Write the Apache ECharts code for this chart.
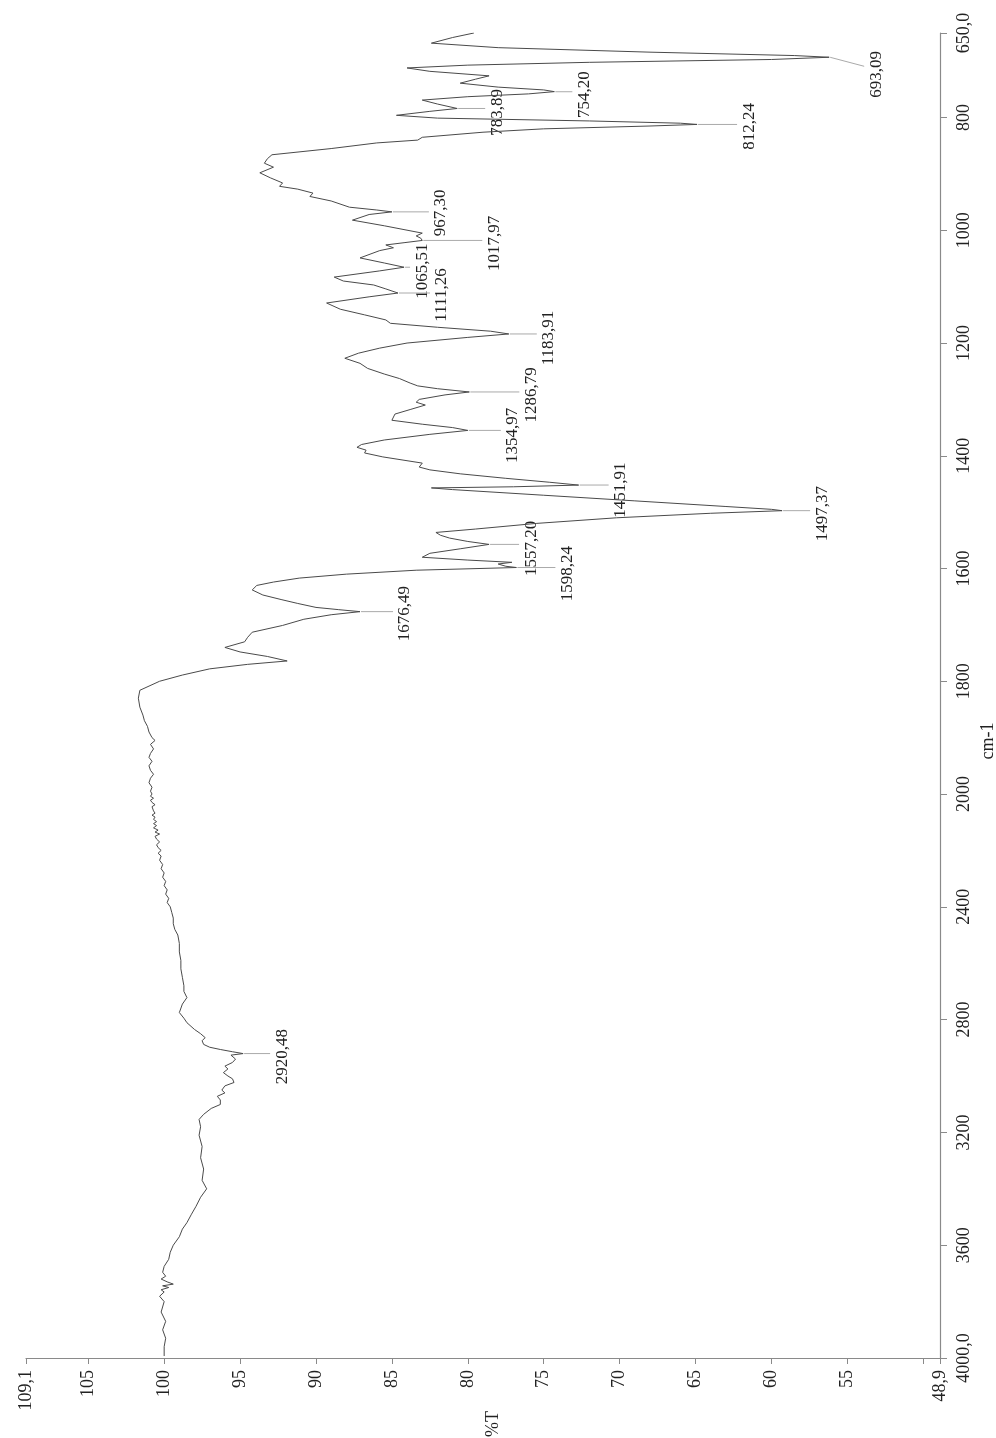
<!DOCTYPE html>
<html>
<head>
<meta charset="utf-8">
<script src="https://cdn.jsdelivr.net/npm/echarts@6/dist/echarts.min.js"></script>
<style>
html,body{margin:0;padding:0;background:#fff;}
#chart{width:996px;height:1438px;}
</style>
</head>
<body>
<div id="chart"></div>
<script>
// ---------- DATA ----------
// wavenumber (cm-1) and transmittance (%T)
const wavenumbers = [
650,658,668,676,684,690,693,697,702,707,712,718,726,732,739,746,751,754,758,763,769,776,783.9,789,796,801,806,810,812.2,815,820,826,835,840,845,855,866,873,881,888,898,907,916,922,927,934,940,948,959,964,967.3,972,982,992,1005,1010,1014,1018,1022,1026,1031,1036,1049,1058,1065.5,1072,1083,1090,1097,1104,1111.3,1118,1129,1140,1150,1159,1165,1172,1179,1183.9,1190,1200,1209,1218,1227,1236,1245,1255,1263,1271,1276,1281,1286.8,1292,1300,1305,1310,1318,1326,1337,1344,1350,1355,1362,1372,1380,1385,1390,1395,1402,1413,1420,1425,1432,1440,1447,1452,1455,1457,1460,1470,1480,1490,1495,1497.4,1502,1510,1520,1530,1536,1541,1546,1552,1557.2,1565,1573,1580,1585,1589,1592,1596,1598.2,1603,1610,1617,1624,1630,1638,1647,1655,1662,1669,1673,1676.5,1682,1690,1701,1713,1722,1730,1740,1748,1756,1764,1770,1778,1789,1800,1816,1830,1846,1860,1870,1880,1890,1900,1905,1912,1920,1928,1935,1942,1950,1958,1965,1972,1980,1988,1995,2000,
2008,2015,2022,2030,2038,2045,2052,2060,2068,2075,2082,2090,2098,2105,2112,2120,2128,2135,2142,2150,2160,2170,2180,2190,2200,2210,2220,2235,2250,2265,2280,2295,2310,2325,2340,2355,2370,2385,2400,2420,2440,2460,2480,2500,2530,2560,2590,2620,2650,2680,2700,2722,2745,2775,2795,2811,2835,2850,2864,2875,2888,2898,2906,2914,2920.5,2926,2931,2940,2952,2965,2975,2988,3000,3010,3023,3035,3050,3060,3072,3085,3101,3115,3136,3154,3180,3210,3250,3290,3330,3370,3400,3430,3462,3490,3520,3543,3570,3600,3625,3650,3675,3696,3710,3720,3730,3738,3744,3750,3758,3766,3781,3800,3837,3870,3900,3930,3960,3993,4000
];
const transmittance = [
79.6,81.0,82.4,78,68,58.5,56.2,60,72,80,84.0,82.5,78.6,79.5,80.5,78,75,74.3,76,80,83.0,82,80.7,82.5,84.7,82,72,66,64.9,68,75,79,83.0,83.3,86,89,92.9,93.2,93.4,92.8,93.7,93.0,92.2,92.4,91.2,90.2,90.4,89.0,87.8,86,85.0,86.5,87.6,85.5,83.0,83.4,83.1,83.0,84.2,85.4,84.9,85.8,87.1,85.5,84.2,85.8,88.8,88.2,86.2,85.4,84.6,86.5,89.3,88.4,86.8,85.4,85.1,82,78.5,77.3,80,84,85.8,87.2,88.1,87.1,86.6,85.5,84.5,83.8,83.3,82,79.9,81.5,83.2,83.4,82.8,83.8,84.8,85.0,83,81,80.0,82.5,85.5,87.0,87.3,86.7,86.8,85.6,83.0,83.2,82.5,80.5,77.5,74.6,72.7,77,82.4,81,75,69,63,60,59.3,64,70.2,75.5,79.5,82.1,81.8,81.2,80,78.6,80.5,82.5,83.0,80,77.1,78,77.5,76.8,83.4,88,91.1,92.8,93.9,94.2,93.5,92.3,91.2,90.0,88.5,87.1,89,90.8,92.2,94.2,94.5,94.7,96.0,95,93.2,91.9,94.5,97,98.8,100.3,101.6,101.7,101.6,101.4,101.3,101.1,101.0,100.8,100.6,100.9,100.7,100.9,101.0,100.8,101.0,100.9,100.7,100.9,101.0,100.8,100.9,100.8,
100.9,100.7,100.9,100.8,100.6,100.8,100.9,100.7,100.6,100.8,100.6,100.7,100.5,100.7,100.5,100.7,100.4,100.6,100.3,100.6,100.5,100.3,100.5,100.4,100.2,100.4,100.2,100.3,100.1,100.2,100.0,100.1,99.9,100.0,99.8,99.9,99.7,99.8,99.6,99.5,99.4,99.4,99.3,99.1,99.0,99.0,98.9,98.9,98.8,98.7,98.7,98.5,98.8,99.0,98.7,98.5,98.0,97.6,97.3,97.5,97.4,97.0,96.3,95.5,94.8,95.6,95.7,95.3,95.5,96.0,95.8,96.1,95.8,95.5,95.4,96.0,96.2,96.0,96.5,96.3,96.3,96.9,97.4,97.7,97.6,97.7,97.5,97.6,97.4,97.5,97.2,97.6,97.9,98.2,98.5,98.8,99.0,99.4,99.6,99.7,100.0,100.1,99.9,100.2,99.8,99.4,100.1,99.7,100.2,100.0,100.3,100.0,100.2,99.9,100.1,99.9,100.0,100.0
];
// annotated peaks
const peakLabels = ['693,09','754,20','783,89','812,24','967,30','1017,97','1065,51','1111,26','1183,91','1286,79','1354,97','1451,91','1497,37','1557,20','1598,24','1676,49','2920,48'];
const peakWn = [693.09,754.20,783.89,812.24,967.30,1017.97,1065.51,1111.26,1183.91,1286.79,1354.97,1451.91,1497.37,1557.20,1598.24,1676.49,2920.48];
const peakT = [56.2,74.3,80.7,64.9,85.0,83.0,84.2,84.6,77.3,79.9,80.0,72.7,59.3,78.6,76.8,87.1,94.8];
// axis tick labels
const tTicks = [48.9,50,55,60,65,70,75,80,85,90,95,100,105,109.1];
const tLabels = [48.9,55,60,65,70,75,80,85,90,95,100,105,109.1];
const wnTicksTop = [650,800,1000,1200,1400,1600,1800,2000];
const wnTicksBottom = [2000,2400,2800,3200,3600,4000];

// ---------- LAYOUT (label placement, px) ----------
const labelOffset = [47,30,40,52,49,72,18,44,40,62,45,42,40,42,51,45,39];
const labelShift  = [17,3,4,2,1,3,4,2,4,3,5,5,3,4,6,2,3];

// ---------- BUILD ----------
const FONT = '"Liberation Serif","Times New Roman",serif';
const TXT = '#222';
const AX = '#8a8a8a';
const split = 2000;
const topData = [], botData = [];
wavenumbers.forEach((w, i) => {
  if (w <= split) topData.push([transmittance[i], w]);
  if (w >= split) botData.push([transmittance[i], w]);
});
const peaksTop = [], peaksBot = [];
peakWn.forEach((w, i) => {
  const item = [peakT[i], w, i];
  (w <= split ? peaksTop : peaksBot).push(item);
});
function fmtComma(v) { return String(v).replace('.', ','); }

function renderPeak(params, api) {
  const idx = api.value(2);
  const p = api.coord([api.value(0), api.value(1)]);
  const off = labelOffset[idx], dy = labelShift[idx];
  const endX = p[0] + off - 12;
  return {
    type: 'group',
    children: [
      { type: 'line', shape: { x1: p[0] + 1, y1: p[1], x2: endX, y2: p[1] + (dy > 8 ? dy - 8 : 0) },
        style: { stroke: '#aaa', lineWidth: 1 } },
      { type: 'text', x: p[0] + off, y: p[1] + dy, rotation: Math.PI / 2,
        style: { text: peakLabels[idx], font: '17px ' + FONT, fill: TXT,
                 align: 'center', verticalAlign: 'middle', textAlign: 'center', textVerticalAlign: 'middle' } }
    ]
  };
}

const xCommon = { type: 'value', min: 48.9, max: 109.1, inverse: true };
const chart = echarts.init(document.getElementById('chart'), null, { renderer: 'canvas' });
chart.setOption({
  animation: false,
  backgroundColor: '#fff',
  grid: [
    { left: 26, right: 56, top: 33, height: 761 },
    { left: 26, right: 56, top: 794, height: 564 }
  ],
  xAxis: [
    Object.assign({ gridIndex: 0, show: false }, xCommon),
    Object.assign({
      gridIndex: 1, position: 'bottom',
      axisLine: { show: true, onZero: false, lineStyle: { color: AX, width: 1.2 } },
      axisTick: { show: true, length: 6, customValues: tTicks, lineStyle: { color: AX } },
      axisLabel: { show: true, customValues: tLabels, rotate: 90, margin: 12,
        fontFamily: FONT, fontSize: 18, color: TXT,
        formatter: v => (v === 48.9 || v === 109.1) ? fmtComma(v) : String(v) },
      splitLine: { show: false }
    }, xCommon)
  ],
  yAxis: [
    { gridIndex: 0, type: 'value', min: 650, max: 2000, inverse: true, position: 'right',
      axisLine: { show: true, onZero: false, lineStyle: { color: AX, width: 1.2 } },
      axisTick: { show: true, length: 7, customValues: wnTicksTop, lineStyle: { color: AX } },
      axisLabel: { show: true, customValues: wnTicksTop, rotate: 90, margin: 15,
        fontFamily: FONT, fontSize: 18, color: TXT,
        formatter: v => v === 650 ? '650,0' : String(v) },
      splitLine: { show: false } },
    { gridIndex: 1, type: 'value', min: 2000, max: 4000, inverse: true, position: 'right',
      axisLine: { show: true, onZero: false, lineStyle: { color: AX, width: 1.2 } },
      axisTick: { show: true, length: 7, customValues: wnTicksBottom, lineStyle: { color: AX } },
      axisLabel: { show: true, customValues: wnTicksBottom.filter(v => v !== 2000), rotate: 90, margin: 15,
        fontFamily: FONT, fontSize: 18, color: TXT,
        formatter: v => v === 4000 ? '4000,0' : String(v) },
      splitLine: { show: false } }
  ],
  series: [
    { type: 'line', xAxisIndex: 0, yAxisIndex: 0, data: topData, showSymbol: false, symbol: 'none',
      lineStyle: { color: '#4a4a4a', width: 1 }, silent: true },
    { type: 'line', xAxisIndex: 1, yAxisIndex: 1, data: botData, showSymbol: false, symbol: 'none',
      lineStyle: { color: '#4a4a4a', width: 1 }, silent: true },
    { type: 'custom', xAxisIndex: 0, yAxisIndex: 0, data: peaksTop, renderItem: renderPeak,
      encode: { x: 0, y: 1 }, clip: false, silent: true },
    { type: 'custom', xAxisIndex: 1, yAxisIndex: 1, data: peaksBot, renderItem: renderPeak,
      encode: { x: 0, y: 1 }, clip: false, silent: true }
  ],
  graphic: [
    { type: 'text', x: 493, y: 1424, rotation: Math.PI / 2,
      style: { text: '%T', font: '18px ' + FONT, fill: TXT, align: 'center', verticalAlign: 'middle', textAlign: 'center', textVerticalAlign: 'middle' } },
    { type: 'text', x: 988, y: 741, rotation: Math.PI / 2,
      style: { text: 'cm-1', font: '18px ' + FONT, fill: TXT, align: 'center', verticalAlign: 'middle', textAlign: 'center', textVerticalAlign: 'middle' } }
  ]
});
</script>
</body>
</html>
